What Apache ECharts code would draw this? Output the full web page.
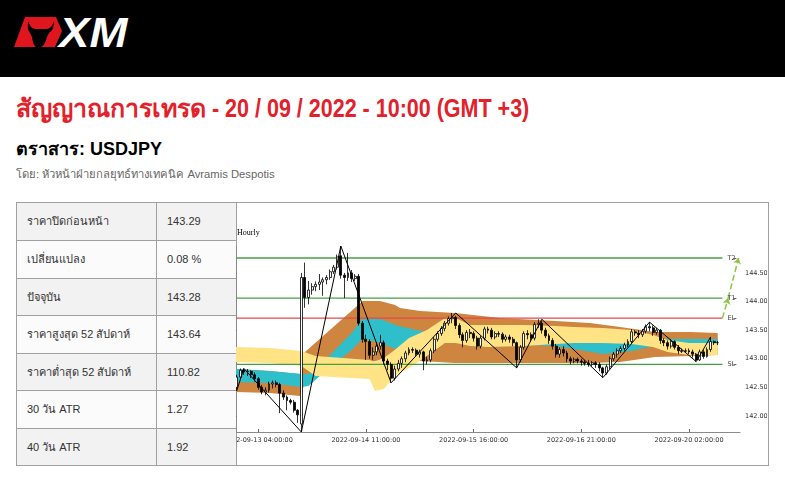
<!DOCTYPE html>
<html><head><meta charset="utf-8">
<script src="https://cdn.jsdelivr.net/npm/echarts@6/dist/echarts.min.js"></script>
<style>
body{margin:0;width:785px;height:477px;overflow:hidden;background:#fff;font-family:'Liberation Sans',Arial,Helvetica,sans-serif;position:relative}
#hdr{position:absolute;left:0;top:0;width:785px;height:77px;background:#000}
#logo{position:absolute;left:0;top:0}
#logoXM{position:absolute;left:59px;top:11px;color:#fff;font:italic bold 43px/42px 'Liberation Sans',Arial,sans-serif;transform:scaleX(1.06);transform-origin:0 50%}
#title{position:absolute;left:16px;top:95px;color:#E2212B;font:bold 25px/26px 'Liberation Sans',Arial,sans-serif;white-space:nowrap}
#title .lat{display:inline-block;transform:scaleX(0.86);transform-origin:0 50%}
#inst{position:absolute;left:16px;top:140px;font:bold 18px/18px 'Liberation Sans',Arial,sans-serif;color:#000;white-space:nowrap}
#by{position:absolute;left:16px;top:168px;font:11.25px/12px 'Liberation Sans',Arial,sans-serif;color:#666;white-space:nowrap}
.cell{position:absolute;box-sizing:border-box;font-size:11px;color:#333;display:flex;align-items:center;white-space:nowrap}
.hl{position:absolute;height:1px;background:#a0a0a0}
.vl{position:absolute;width:1px;background:#a0a0a0}
#chart{position:absolute;left:236px;top:203px;width:531px;height:262px}
</style></head>
<body>
<div id="hdr"></div>
<svg id="logo" width="140" height="77">
  <polygon points="14,47 25,17 56,17 62,31 55,47" fill="#E0161E"/>
  <path d="M28,21 Q30,28 35,29 L47,29 Q52,28 54,21 Q54,30 49,33 L47,37 Q45,45 41,47 L36,47 Q33,45 32,37 L30,33 Q27,30 28,21 Z" fill="#000"/>
</svg>
<div id="logoXM">XM</div>
<div id="title">สัญญาณการเทรด<span class="lat">&nbsp;- 20 / 09 / 2022 - 10:00 (GMT +3)</span></div>
<div id="inst">ตราสาร: USDJPY</div>
<div id="by">โดย: หัวหน้าฝ่ายกลยุทธ์ทางเทคนิค Avramis Despotis</div>
<div id="table"></div>
<div id="chart"></div>
<script>
// ---------- table data ----------
const rowLabels = ['ราคาปิดก่อนหน้า','เปลี่ยนแปลง','ปัจจุบัน','ราคาสูงสุด 52 สัปดาห์','ราคาต่ำสุด 52 สัปดาห์','30 วัน ATR','40 วัน ATR'];
const rowValues = ['143.29','0.08 %','143.28','143.64','110.82','1.27','1.92'];

// ---------- chart data ----------
const xTickPos = [6, 36, 66, 96, 126];
const xTickLabels = ['2022-09-13 04:00:00','2022-09-14 11:00:00','2022-09-15 16:00:00','2022-09-16 21:00:00','2022-09-20 02:00:00'];
const yTicks = [142.0, 142.5, 143.0, 143.5, 144.0, 144.5];
const levelNames = ['T2','T1','EL','SL'];
const levelValues = [144.76, 144.06, 143.71, 142.90];
const levelColors = ['#44a044','#44a044','#e4484c','#44a044'];
const levelEnd = 135.3;
const targetPath = [[135.3,143.71],[136.9,144.06],[139.8,144.76]];
const zigzag = [[0,142.44],[2,142.83],[18,141.72],[29,144.97],[43,142.58],[61,143.80],[78,142.84],[85,143.69],[102,142.67],[115,143.64],[128,142.95],[132,143.38]];
// [open, close, low, high] per hourly bar
const ohlc = [
[142.50,142.68,142.44,142.72],[142.68,142.80,142.64,142.83],[142.80,142.77,142.72,142.83],[142.77,142.78,142.70,142.82],
[142.78,142.72,142.66,142.80],[142.72,142.65,142.60,142.76],[142.65,142.50,142.46,142.68],[142.50,142.42,142.38,142.54],
[142.42,142.45,142.36,142.50],[142.45,142.56,142.41,142.60],[142.56,142.58,142.48,142.62],[142.58,142.55,142.50,142.62],
[142.55,142.40,142.05,142.58],[142.40,142.33,142.28,142.45],[142.33,142.27,142.10,142.36],[142.27,142.24,142.20,142.30],
[142.24,142.10,142.06,142.28],[142.10,142.02,141.88,142.12],[141.86,144.42,141.72,144.50],[144.42,144.07,143.89,144.68],
[144.07,144.20,143.95,144.36],[144.20,144.26,144.12,144.32],[144.26,144.30,144.18,144.35],[144.30,144.34,144.20,144.48],
[144.34,144.38,144.10,144.42],[144.38,144.42,144.30,144.46],[144.42,144.52,144.38,144.56],[144.52,144.60,144.48,144.64],
[144.60,144.78,144.56,144.82],[144.80,144.46,144.40,144.97],[144.46,144.42,144.06,144.50],[144.42,144.50,144.36,144.85],
[144.50,144.40,144.34,144.55],[144.40,144.44,144.36,144.48],[144.44,143.62,143.58,144.48],[143.62,143.34,143.28,143.66],
[143.34,143.30,142.98,143.42],[143.30,143.06,143.00,143.34],[143.06,143.12,142.98,143.20],[143.12,143.22,143.06,143.28],
[143.22,143.28,143.16,143.42],[143.28,142.96,142.90,143.32],[142.96,142.90,142.80,143.00],[142.90,142.66,142.58,142.94],
[142.66,142.82,142.62,142.88],[142.82,142.92,142.78,142.98],[142.92,143.00,142.84,143.04],[143.00,143.10,142.94,143.14],
[143.10,143.16,143.06,143.20],[143.16,143.15,143.10,143.20],[143.15,143.08,143.04,143.18],[143.08,143.12,143.02,143.16],
[143.12,142.96,142.80,143.14],[142.96,142.98,142.90,143.04],[142.98,143.14,142.94,143.18],[143.14,143.34,143.10,143.38],
[143.34,143.44,143.30,143.48],[143.44,143.53,143.40,143.57],[143.53,143.62,143.48,143.66],[143.62,143.70,143.58,143.74],
[143.70,143.72,143.62,143.80],[143.72,143.58,143.52,143.75],[143.58,143.42,143.36,143.62],[143.42,143.32,143.20,143.46],
[143.32,143.46,143.28,143.50],[143.46,143.44,143.36,143.52],[143.44,143.36,143.30,143.48],[143.36,143.22,143.16,143.40],
[143.22,143.36,143.18,143.40],[143.36,143.52,143.32,143.56],[143.52,143.50,143.44,143.56],[143.50,143.38,143.34,143.54],
[143.38,143.44,143.34,143.48],[143.44,143.43,143.38,143.48],[143.43,143.34,143.28,143.46],[143.34,143.38,143.30,143.42],
[143.38,143.34,143.28,143.42],[143.34,143.28,143.22,143.38],[143.28,142.98,142.84,143.30],[142.98,143.20,142.94,143.24],
[143.20,143.44,143.16,143.48],[143.44,143.42,143.34,143.50],[143.42,143.36,143.30,143.46],[143.36,143.60,143.32,143.64],
[143.60,143.62,143.54,143.69],[143.62,143.50,143.44,143.66],[143.50,143.40,143.36,143.54],[143.40,143.32,143.26,143.44],
[143.32,143.22,143.16,143.36],[143.22,143.08,143.02,143.26],[143.08,143.16,143.02,143.20],[143.16,143.10,143.04,143.22],
[143.10,143.00,142.94,143.14],[143.00,142.96,142.90,143.04],[142.96,142.99,142.92,143.02],[142.99,142.96,142.92,143.02],
[142.96,142.94,142.88,143.00],[142.94,142.92,142.88,142.98],[142.92,142.90,142.86,142.98],[142.90,142.93,142.86,142.96],
[142.93,142.90,142.84,142.96],[142.90,142.84,142.78,142.94],[142.84,142.75,142.67,142.86],[142.75,142.86,142.72,142.90],
[142.86,143.00,142.82,143.04],[143.00,143.08,142.96,143.12],[143.08,143.14,143.02,143.18],[143.14,143.18,143.10,143.22],
[143.18,143.24,143.14,143.28],[143.24,143.30,143.20,143.34],[143.30,143.47,143.26,143.52],[143.47,143.45,143.40,143.50],
[143.45,143.42,143.36,143.50],[143.42,143.48,143.38,143.52],[143.48,143.56,143.44,143.60],[143.56,143.54,143.48,143.64],
[143.54,143.46,143.40,143.58],[143.46,143.50,143.42,143.54],[143.50,143.32,143.26,143.52],[143.32,143.28,143.22,143.36],
[143.28,143.22,143.16,143.32],[143.22,143.30,143.18,143.34],[143.30,143.20,143.16,143.32],[143.20,143.14,143.08,143.24],
[143.14,143.13,143.10,143.18],[143.13,143.14,143.10,143.18],[143.14,143.12,143.08,143.18],[143.12,143.08,143.02,143.16],
[143.08,142.98,142.95,143.10],[142.98,143.12,142.96,143.16],[143.12,143.04,143.00,143.16],[143.04,143.16,143.02,143.20],
[143.16,143.30,143.12,143.38],[143.30,143.28,143.24,143.32],[143.28,143.28,143.24,143.31]
];
// band outlines [barIndex, price]
const orangeUpper = [[-0.2,142.822],[9.3,142.787],[17.6,142.734],[18.7,143.101],[35.1,144.010],[39.9,144.010],[44.1,143.941],[45.5,143.888],[51.1,143.836],[60.8,143.801],[73.3,143.713],[88.7,143.661],[98.4,143.626],[106.8,143.556],[116.5,143.469],[126.3,143.469],[134,143.451]];
const orangeLower = [[-0.2,142.420],[9.3,142.402],[17.6,142.350],[18.7,142.524],[28.8,142.927],[37,142.927],[44.1,143.066],[51.1,142.962],[60.8,142.927],[73.3,142.927],[88.7,142.927],[98.4,142.927],[106.8,142.944],[116.5,143.031],[126.3,143.049],[134,143.066]];
const cyanUpper = [[-0.2,142.822],[9.3,142.787],[18,142.734],[20,142.734],[26,143.066],[32,143.451],[35,143.696],[40,143.696],[45,143.573],[50,143.503],[55,143.451],[60,143.416],[70,143.451],[80,143.434],[88.7,143.381],[94,143.329],[102,143.294],[110,143.329],[116,143.346],[126,143.346],[134,143.346]];
const cyanLower = [[-0.2,142.594],[9.3,142.577],[18,142.507],[20,142.524],[26,142.857],[32,143.154],[35,143.346],[40,143.276],[45,143.154],[50,143.206],[55,143.259],[60,143.294],[70,143.259],[80,143.241],[88.7,143.224],[94,143.171],[102,143.084],[110,143.136],[116,143.224],[126,143.241],[134,143.241]];
const yellowUpper = [[-0.2,143.206],[9.3,143.189],[18,143.136],[22,143.049],[37,142.979],[38.5,142.944],[41,143.014],[44,143.154],[48,143.364],[53,143.503],[58,143.713],[61,143.713],[65,143.591],[70,143.591],[80,143.591],[88.7,143.573],[94,143.556],[102,143.538],[110,143.503],[116,143.416],[120,143.329],[126,143.276],[134,143.276]];
const yellowLower = [[-0.2,142.944],[9.3,142.927],[18,142.874],[22,142.699],[37,142.647],[38.5,142.437],[41,142.472],[44,142.699],[48,142.839],[53,143.049],[58,143.276],[61,143.276],[65,143.224],[70,143.206],[80,143.224],[88.7,143.259],[94,143.276],[102,143.276],[110,143.259],[116,143.206],[120,143.119],[126,143.066],[134,143.066]];

// ---------- table build ----------
(function(){
  const t = document.getElementById('table');
  const rowTops = [202,240,278,315,353,390,428,465];
  let html = '';
  for (let r = 0; r < rowLabels.length; r++) {
    const top = rowTops[r], h = rowTops[r+1]-rowTops[r];
    const bg = r % 2 === 0 ? '#f2f2f2' : '#fbfbfb';
    html += `<div class="cell" style="left:16px;top:${top}px;width:140px;height:${h}px;background:${bg};padding-left:11px">${rowLabels[r]}</div>`;
    html += `<div class="cell" style="left:156px;top:${top}px;width:80px;height:${h}px;background:${bg};padding-left:11px">${rowValues[r]}</div>`;
    html += `<div class="hl" style="left:16px;top:${top}px;width:220px"></div>`;
  }
  html += `<div class="hl" style="left:16px;top:202px;width:753px"></div>`;
  html += `<div class="hl" style="left:16px;top:465px;width:753px"></div>`;
  [16,156,236,768].forEach(x => { html += `<div class="vl" style="left:${x}px;top:202px;height:264px"></div>`; });
  t.innerHTML = html;
})();

// ---------- chart ----------
const chart = echarts.init(document.getElementById('chart'), null, {renderer:'canvas'});
const axisFont = 'DejaVu Sans';
function bandSeries(upper, lower, color, z) {
  return {
    type: 'custom', coordinateSystem: 'cartesian2d', silent: true, z: z, clip: true,
    data: [[upper[0][0], upper[0][1]]], encode: {x: 0, y: 1},
    renderItem: function (params, api) {
      const pts = upper.map(p => api.coord(p)).concat(lower.slice().reverse().map(p => api.coord(p)));
      return { type: 'polygon', shape: { points: pts }, style: { fill: color } };
    }
  };
}
const series = [
  bandSeries(orangeUpper, orangeLower, '#CD853F', 1),
  bandSeries(cyanUpper, cyanLower, '#2EBFCB', 2),
  bandSeries(yellowUpper, yellowLower, '#FFE384', 3)
];
series.push({
  type: 'lines', coordinateSystem: 'cartesian2d', z: 4, silent: true, animation: false,
  symbol: ['none', 'arrow'], symbolSize: 6,
  data: [{coords: [targetPath[0], targetPath[1]]}, {coords: [targetPath[1], targetPath[2]]}],
  lineStyle: {color: '#8CC63F', type: 'dashed', width: 1.5, opacity: 1}
});
levelNames.forEach((n, k) => {
  series.push({
    type: 'line', silent: true, z: 5, symbol: 'none', animation: false,
    data: [[-0.2, levelValues[k]], [levelEnd, levelValues[k]]],
    lineStyle: {color: levelColors[k], width: 1.3},
    endLabel: {show: true, formatter: n, distance: 5, fontSize: 6.5, color: '#444', fontFamily: axisFont}
  });
});
series.push({
  type: 'lines', coordinateSystem: 'cartesian2d', silent: true, z: 5, animation: false,
  data: levelValues.map(v => ({coords: [[138.4, v], [139.2, v]]})),
  lineStyle: {color: '#666', width: 1, opacity: 1}
});
series.push({
  type: 'candlestick', z: 6, silent: true, animation: false,
  dimensions: ['idx','open','close','lowest','highest'],
  encode: {x: 'idx', y: ['open','close','lowest','highest']},
  data: ohlc.map((d, i) => [i, d[0], d[1], d[2], d[3]]),
  barWidth: 2.4,
  itemStyle: {color: '#ffffff', color0: '#000000', borderColor: '#000000', borderColor0: '#000000', borderWidth: 0.8}
});
series.push({
  type: 'line', z: 7, silent: true, symbol: 'none', animation: false,
  data: zigzag, lineStyle: {color: '#000', width: 1}
});
chart.setOption({
  animation: false,
  backgroundColor: 'transparent',
  title: {text: 'Hourly', left: 1, top: 26, padding: 0, textStyle: {fontFamily: 'Liberation Serif', fontSize: 8, fontWeight: 'normal', color: '#000'}},
  grid: {left: 0, right: 27, top: 43, bottom: 33, containLabel: false, outerBoundsMode: 'none'},
  xAxis: {
    type: 'value', min: -0.2, max: 140.2,
    axisLine: {show: true, onZero: false, lineStyle: {color: '#8a8a8a', width: 1}},
    axisTick: {show: true, inside: true, length: 3, customValues: xTickPos, lineStyle: {color: '#666'}},
    axisLabel: {show: true, customValues: xTickPos, margin: 5, fontSize: 6.5, color: '#333', fontFamily: axisFont,
      formatter: v => xTickLabels[xTickPos.indexOf(v)] || ''},
    splitLine: {show: false}
  },
  yAxis: {
    type: 'value', position: 'right', min: 141.72, max: 144.97, scale: true,
    axisLine: {show: true, lineStyle: {color: '#8a8a8a', width: 1}},
    axisTick: {show: true, inside: true, length: 3, customValues: yTicks, lineStyle: {color: '#666'}},
    axisLabel: {show: true, customValues: yTicks, margin: 5, fontSize: 6.5, color: '#333', fontFamily: axisFont,
      formatter: v => v.toFixed(2)},
    splitLine: {show: false}
  },
  series: series
});
</script>
</body></html>
